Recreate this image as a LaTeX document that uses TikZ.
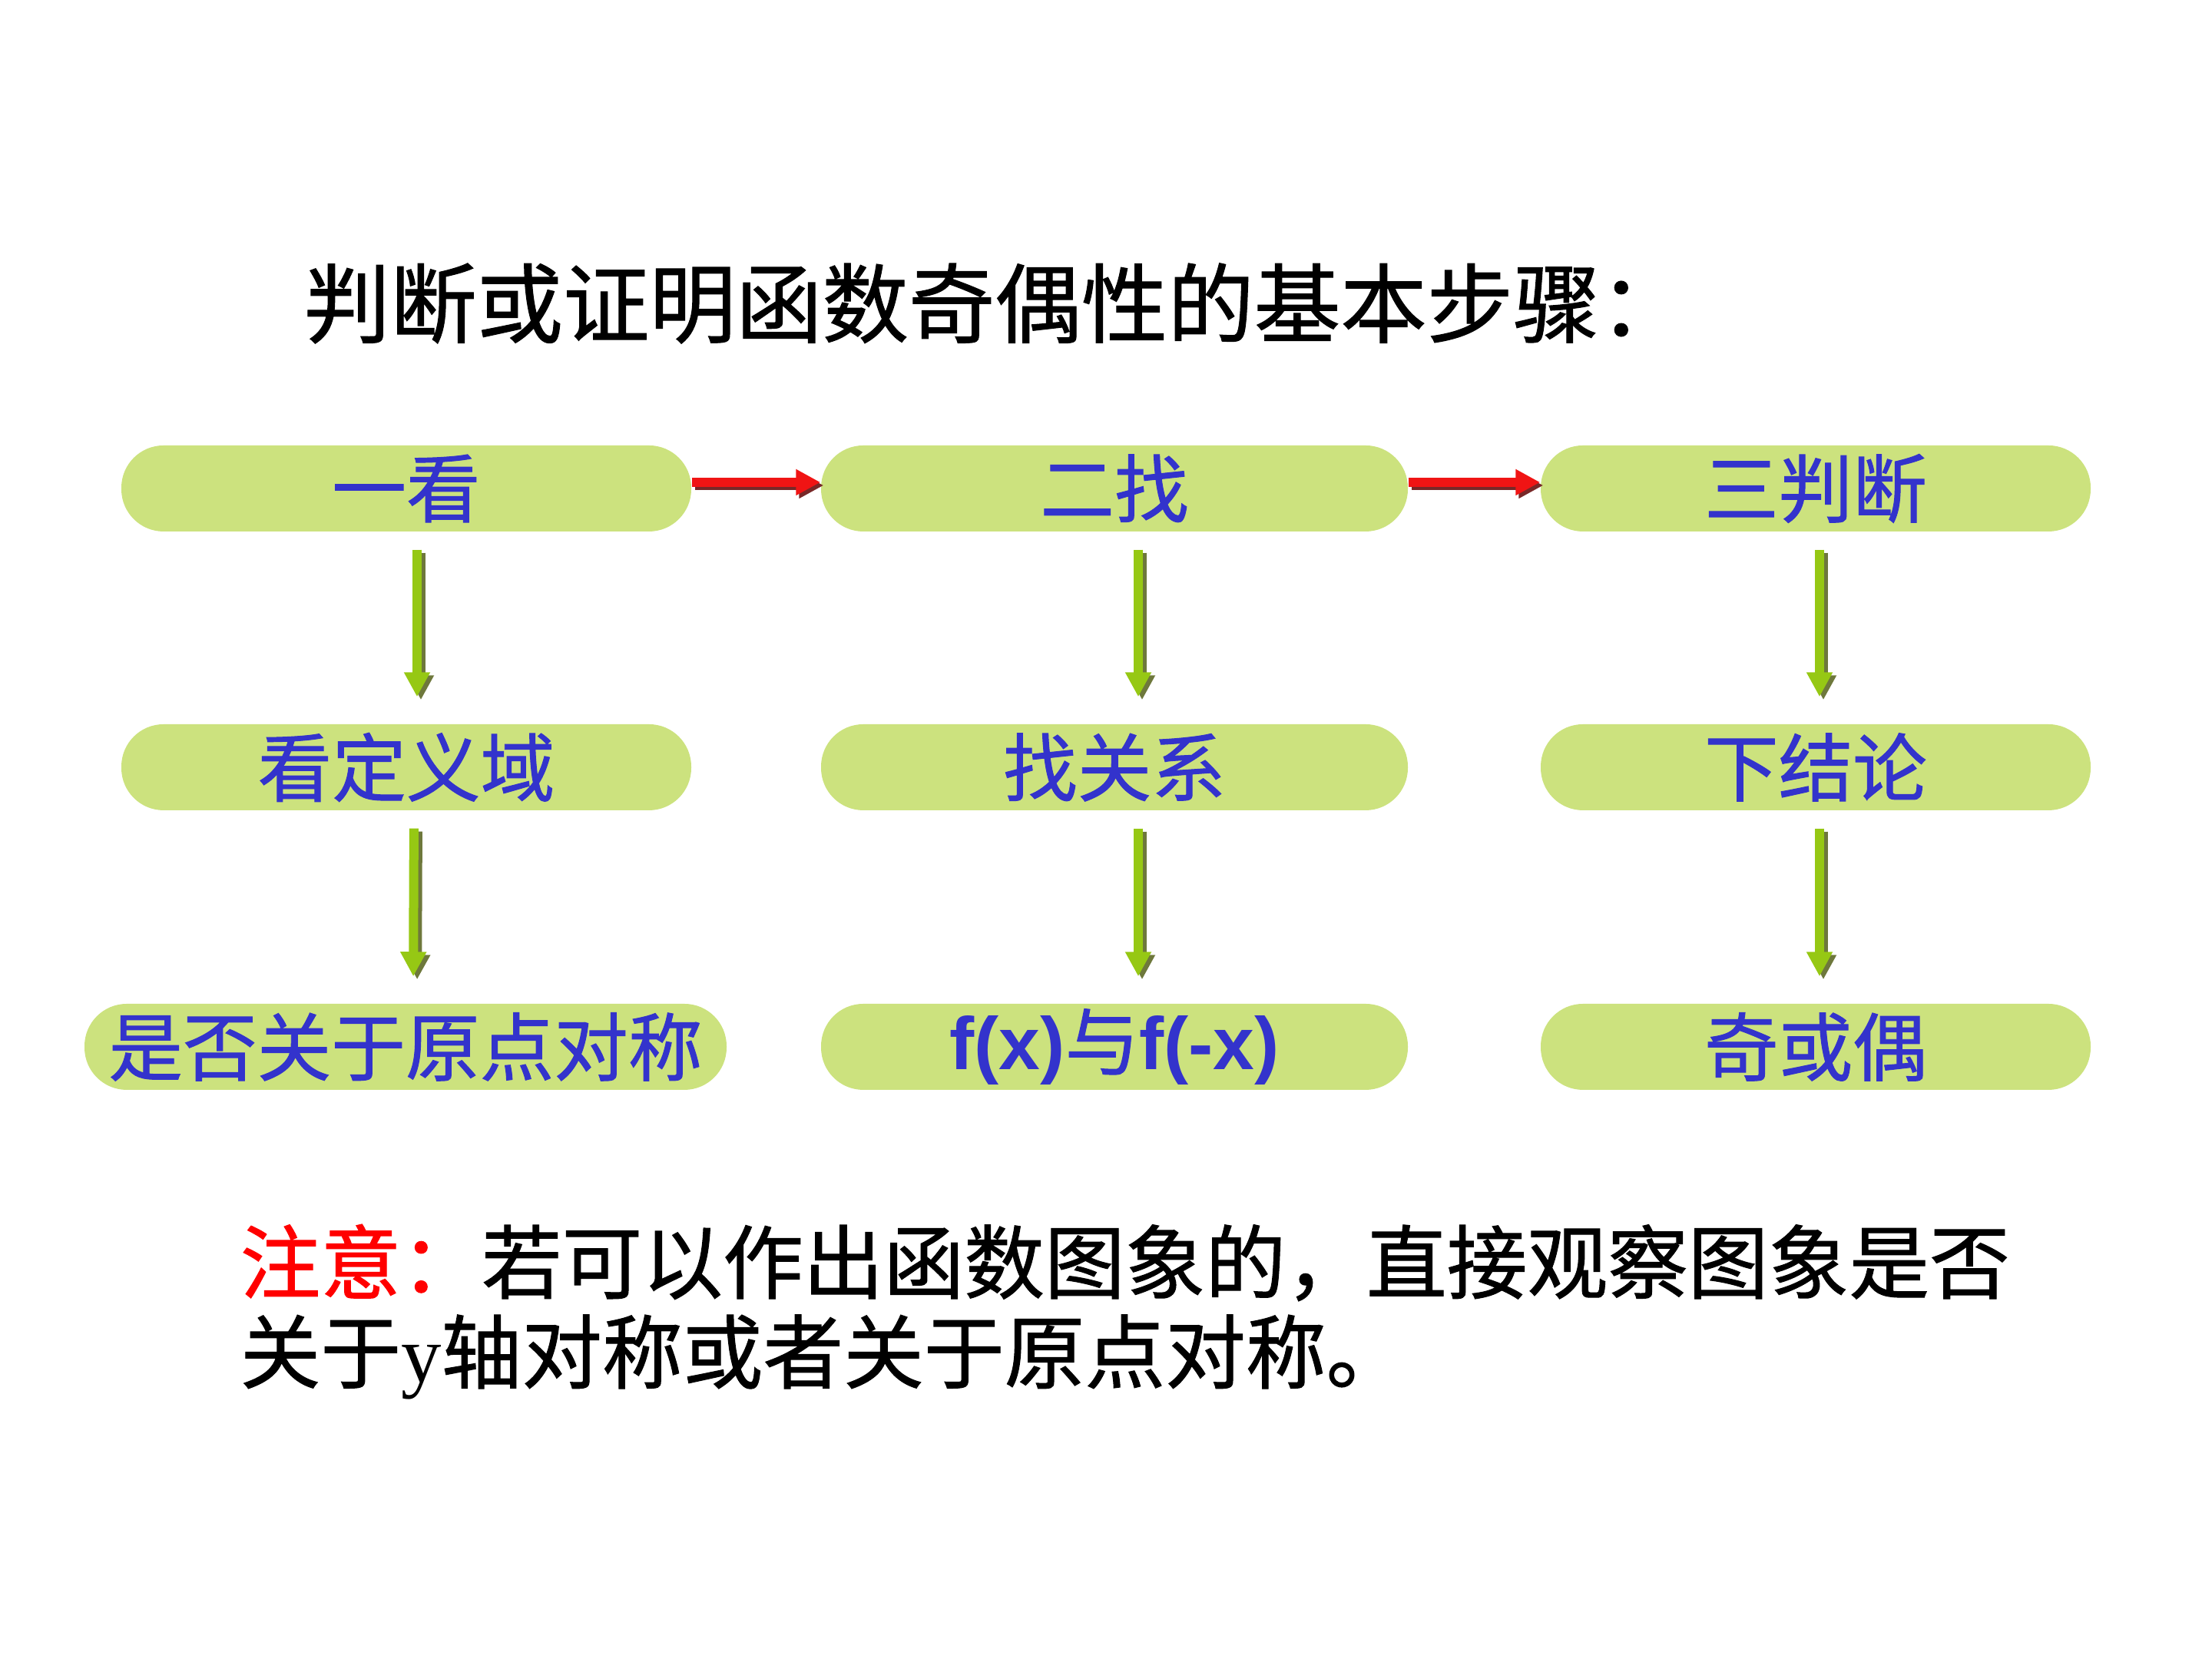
\documentclass[tikz,border=0pt]{standalone}
\usepackage{fontspec}
\setmainfont{Liberation Serif}
\newfontfamily\cjk{Noto Sans CJK SC}[FakeBold=1]
\newfontfamily\arial{Liberation Sans}
\usetikzlibrary{arrows.meta}

\definecolor{boxgreen}{RGB}{204,226,126}
\definecolor{textblue}{RGB}{51,51,204}
\definecolor{arrowred}{RGB}{240,20,20}
\definecolor{shadowred}{RGB}{120,40,40}
\definecolor{arrowgreen}{RGB}{150,200,20}
\definecolor{shadowgreen}{RGB}{110,120,60}

\begin{document}
\begin{tikzpicture}[
    stepnode/.style={fill=boxgreen, rounded corners=0.55cm, minimum height=1.12cm, inner sep=0pt, text=textblue, font=\cjk\fontsize{27.5}{30}\selectfont},
    redarrow/.style={draw=arrowred, line width=0.12cm, -{Triangle[width=0.32cm, length=0.32cm]}},
    redshadow/.style={redarrow, draw=shadowred, transform canvas={xshift=0.4mm, yshift=-0.4mm}},
    greenarrow/.style={draw=arrowgreen, line width=0.12cm, -{Triangle[width=0.32cm, length=0.32cm]}},
    greenshadow/.style={greenarrow, draw=shadowgreen, transform canvas={xshift=0.5mm, yshift=-0.4mm}},
    ]
\useasboundingbox (0,0) rectangle (28.8,21.6);

% Title
\node[anchor=west, inner sep=0pt, font=\cjk\fontsize{32}{35}\selectfont] (title) at (3.95,17.65) {判断或证明函数奇偶性的基本步骤：};

% First row
\node[stepnode, minimum width=7.42cm] (a1) at (5.29,15.24) {一看};
\node[stepnode, minimum width=7.64cm] (b1) at (14.51,15.24) {二找};
\node[stepnode, minimum width=7.16cm] (c1) at (23.64,15.24) {三判断};

% Second row
\node[stepnode, minimum width=7.42cm] (a2) at (5.29,11.61) {看定义域};
\node[stepnode, minimum width=7.64cm] (b2) at (14.51,11.61) {找关系};
\node[stepnode, minimum width=7.16cm] (c2) at (23.64,11.61) {下结论};

% Third row
\node[stepnode, minimum width=8.36cm] (a3) at (5.28,7.97) {是否关于原点对称};
\node[stepnode, minimum width=7.64cm] (b3) at (14.51,7.97) {{\arial\bfseries f(x)}与{\arial\bfseries f(-x)}};
\node[stepnode, minimum width=7.16cm] (c3) at (23.64,7.97) {奇或偶};

% Red arrows between the steps
\foreach \i/\j in {a1/b1, b1/c1} {
    \draw[redshadow] ([yshift=0.08cm]\i.east) -- ([yshift=0.08cm]\j.west);
    \draw[redarrow] ([yshift=0.08cm]\i.east) -- ([yshift=0.08cm]\j.west);
}

% Green arrows down the columns
\foreach \i/\j/\dx in {a1/a2/0.14, b1/b2/0.31, c1/c2/0.05, a2/a3/0.1, b2/b3/0.31, c2/c3/0.05} {
    \draw[greenshadow, shorten <=0.23cm, shorten >=0.35cm] ([xshift=\dx cm]\i.south) -- ([xshift=\dx cm]\j.north);
    \draw[greenarrow, shorten <=0.23cm, shorten >=0.35cm] ([xshift=\dx cm]\i.south) -- ([xshift=\dx cm]\j.north);
}

% Note
\node[anchor=west, inner sep=0pt, font=\cjk\fontsize{29.8}{33}\selectfont] (note1) at (3.12,5.16) {\textcolor{red}{注意：}若可以作出函数图象的，直接观察图象是否};
\node[anchor=west, inner sep=0pt, font=\cjk\fontsize{29.8}{33}\selectfont] (note2) at (3.12,3.93) {关于{\rmfamily y}轴对称或者关于原点对称。};

\end{tikzpicture}
\end{document}
